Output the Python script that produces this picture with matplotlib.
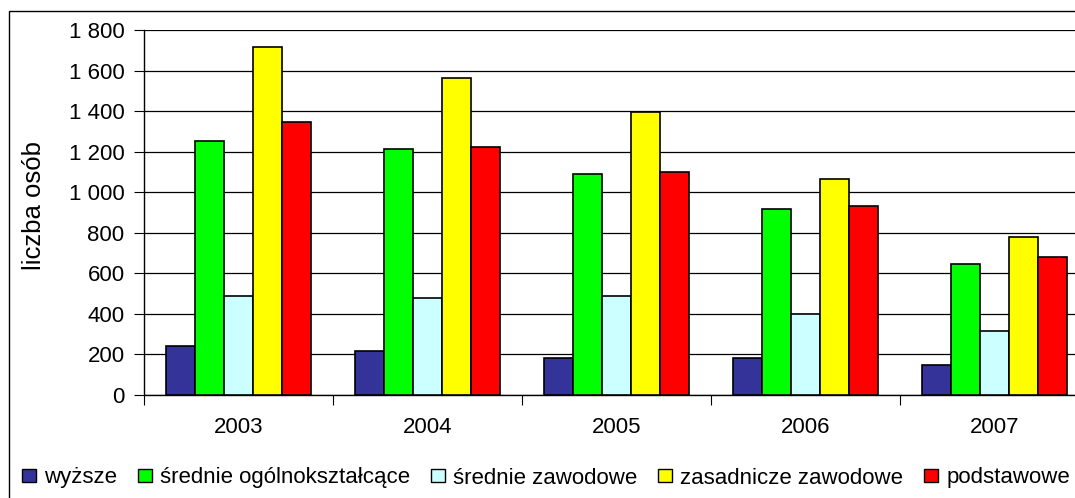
import numpy as np
import matplotlib.pyplot as plt
from matplotlib.patches import Rectangle
from matplotlib.ticker import FuncFormatter, FixedLocator

plt.rcParams['font.family'] = ['Liberation Sans', 'DejaVu Sans']

years = ['2003', '2004', '2005', '2006', '2007']
wyzsze = [240, 217, 182, 182, 150]
srednie_ogolne = [1255, 1213, 1091, 917, 644]
srednie_zawodowe = [490, 480, 490, 398, 315]
zasadnicze = [1717, 1561, 1395, 1066, 777]
podstawowe = [1346, 1223, 1099, 933, 679]

series = [wyzsze, srednie_ogolne, srednie_zawodowe, zasadnicze, podstawowe]
labels = ['wyższe', 'średnie ogólnokształcące', 'średnie zawodowe',
          'zasadnicze zawodowe', 'podstawowe']
colors = ['#333399', '#00ff00', '#ccffff', '#ffff00', '#ff0000']

fig = plt.figure(figsize=(10.75, 4.98), dpi=100)
# outer chart frame (clipped at the right like the original)
fig.patches.append(Rectangle((9/1075, -0.1), 1.2, 1 - 11/498 + 0.1,
                             transform=fig.transFigure, fill=False,
                             edgecolor='black', linewidth=1))

ax = fig.add_axes([144/1075, 1 - 395/498, 945/1075, 365/498])
x = np.arange(len(years))
w = 0.154
for i, (vals, c) in enumerate(zip(series, colors)):
    ax.bar(x + (i - 2) * w, vals, w, color=c, edgecolor='black',
           linewidth=1.2, zorder=3)

ax.set_xlim(-0.5, len(years) - 0.5)
ax.set_ylim(0, 1800)
ax.set_yticks(range(0, 1801, 200))
ax.yaxis.set_major_formatter(FuncFormatter(lambda v, p: f'{int(v):,}'.replace(',', ' ')))
ax.yaxis.grid(True, color='black', linewidth=0.9, zorder=0)
ax.set_axisbelow(True)

ax.xaxis.set_major_locator(FixedLocator(np.arange(-0.5, len(years), 1.0)))
ax.xaxis.set_major_formatter(FuncFormatter(lambda v, p: ''))
ax.set_xticks(x, minor=True)
ax.set_xticklabels(years, minor=True)
ax.tick_params(axis='x', which='minor', length=0, labelsize=16, pad=16)
ax.tick_params(axis='x', which='major', length=7, direction='out', color='black')
ax.tick_params(axis='y', length=7, direction='out', labelsize=16, pad=7)

for s in ['top', 'right']:
    ax.spines[s].set_visible(False)
ax.spines['left'].set_linewidth(1)
ax.spines['bottom'].set_linewidth(1)

ax.set_ylabel('liczba osób', fontsize=18.5)
ax.yaxis.set_label_coords(-0.104, 0.518)

handles = [Rectangle((0, 0), 1, 1, facecolor=c, edgecolor='black', linewidth=1)
           for c in colors]
fig.legend(handles, labels, loc='center left', bbox_to_anchor=(22/1075, 1 - 478/498),
           ncol=5, frameon=False, fontsize=16, handlelength=0.65, handleheight=0.5,
           handletextpad=0.36, columnspacing=0.92, borderaxespad=0, borderpad=0)

fig.savefig('out.png', dpi=100)
